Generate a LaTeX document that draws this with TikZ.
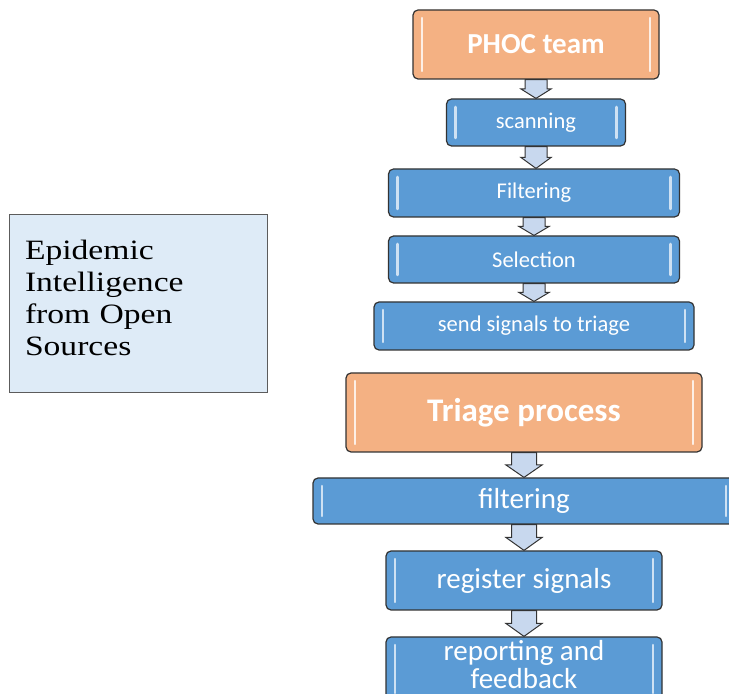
\documentclass[tikz,border=0pt]{standalone}
\usepackage{fontspec}
\setmainfont{Liberation Serif}
\newfontfamily\calibri{Carlito}
\newfontfamily\eiosfont[FakeStretch=1.2]{Liberation Serif}
\usetikzlibrary{calc}
\definecolor{boxblue}{HTML}{5B9BD5}
\definecolor{boxorange}{HTML}{F4B183}
\definecolor{arrowblue}{HTML}{C8D8EE}
\definecolor{eiosblue}{HTML}{DEEBF7}
\definecolor{edgegray}{HTML}{333333}
\newcommand{\sidebars}[1]{%
  \draw[#1, line width=2.5pt, line cap=round]
    ([shift={(9pt,-8pt)}]path picture bounding box.north west) --
    ([shift={(9pt,8pt)}]path picture bounding box.south west);
  \draw[#1, line width=2.5pt, line cap=round]
    ([shift={(-9pt,-8pt)}]path picture bounding box.north east) --
    ([shift={(-9pt,8pt)}]path picture bounding box.south east);}
\newcommand{\flowarrow}[4]{%
  \draw[blockarrow] let \p1=(#1.south), \p2=(#2.north) in
    ({\x1-#3},{\y1}) -- ({\x1+#3},{\y1}) -- ({\x1+#3},{(\y1+\y2)/2})
    -- ({\x1+#4},{(\y1+\y2)/2}) -- ({\x1},{\y2}) -- ({\x1-#4},{(\y1+\y2)/2})
    -- ({\x1-#3},{(\y1+\y2)/2}) -- cycle;}
\newcommand{\lift}{\rule[-10pt]{0pt}{0pt}}
\tikzstyle{stage} = [draw=edgegray, fill=boxblue, rounded corners=5pt,
    line width=1.2pt, text=white, align=center, inner sep=0pt,
    font=\calibri\fontsize{22.5}{26}\selectfont,
    path picture={\sidebars{white!70!boxblue}}]
\tikzstyle{bigstage} = [stage, font=\calibri\fontsize{29}{28}\selectfont]
\tikzstyle{head} = [stage, fill=boxorange,
    path picture={\sidebars{white!80!boxorange}}]
\tikzstyle{source} = [draw=edgegray!80, fill=eiosblue, line width=0.8pt,
    align=left, inner xsep=16pt, text=black,
    font=\eiosfont\fontsize{28}{32}\selectfont]
\tikzstyle{blockarrow} = [draw=edgegray, fill=arrowblue, line width=1pt,
    line join=miter]

\begin{document}
\begin{tikzpicture}[x=1pt, y=1pt]
    \useasboundingbox (0,0) rectangle (729,694);
    \clip (0,0) rectangle (729,694);
    \node [source, minimum width=258pt, minimum height=178pt,
            text width=226pt] (eios) at (138,391)
            {Epidemic\\Intelligence\\from Open\\Sources\lift};
    \node [head, minimum width=246pt, minimum height=69pt,
            font=\calibri\bfseries\fontsize{29}{32}\selectfont]
            (phoc) at (536,649.5) {PHOC team};
    \node [stage, below of=phoc, node distance=78pt,
            minimum width=179pt, minimum height=47pt] (scanning) {scanning};
    \node [stage, below of=scanning, node distance=70.5pt, xshift=-2pt,
            minimum width=291pt, minimum height=48pt] (filtering) {Filtering};
    \node [stage, below of=filtering, node distance=66.5pt,
            minimum width=291pt, minimum height=47pt] (selection) {Selection};
    \node [stage, below of=selection, node distance=66.5pt,
            minimum width=320pt, minimum height=48pt] (send) {send signals to triage};
    \node [head, below of=send, node distance=86.5pt, xshift=-10pt,
            minimum width=356pt, minimum height=79pt,
            font=\calibri\bfseries\fontsize{33}{36}\selectfont]
            (triage) {Triage process};
    \node [bigstage, below of=triage, node distance=88.5pt,
            minimum width=422pt, minimum height=46pt] (filtering2) {filtering};
    \node [bigstage, below of=filtering2, node distance=79.5pt,
            minimum width=276pt, minimum height=59pt] (register) {register signals};
    \node [bigstage, below of=register, node distance=88.5pt,
            minimum width=276pt, minimum height=64pt] (report) {reporting and\\feedback\lift};
    \flowarrow{phoc}{scanning}{11pt}{15pt}
    \flowarrow{scanning}{filtering}{11pt}{15pt}
    \flowarrow{filtering}{selection}{11pt}{15pt}
    \flowarrow{selection}{send}{11pt}{15pt}
    \flowarrow{triage}{filtering2}{12.5pt}{18pt}
    \flowarrow{filtering2}{register}{12.5pt}{18pt}
    \flowarrow{register}{report}{12.5pt}{18pt}
\end{tikzpicture}
\end{document}
